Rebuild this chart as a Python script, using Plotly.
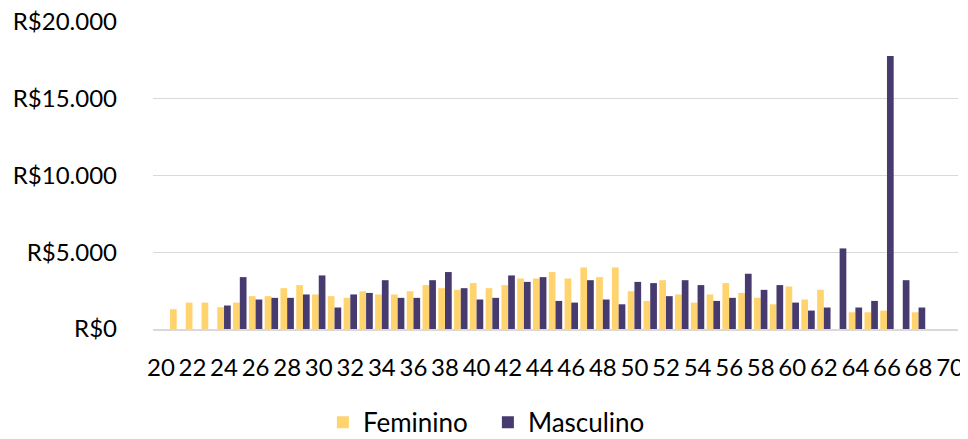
import plotly.graph_objects as go

ages = list(range(20, 71))
feminino = [None, 1290, 1720, 1720, 1420, 1720, 2140, 2140, 2660, 2860,
            2250, 2140, 2030, 2460, 2250, 2250, 2460, 2860, 2660, 2550,
            2990, 2660, 2860, 3290, 3290, 3710, 3290, 4010, 3380, 4010,
            2460, 1830, 3180, 2250, 1720, 2250, 2990, 2350, 2030, 1610,
            2770, 1920, 2550, None, 1090, 1090, 1200, None, 1090, None, None]
masculino = [None, None, None, None, 1530, 3380, 1920, 2030, 2030, 2250,
             3490, 1400, 2250, 2350, 3180, 2030, 2030, 3180, 3710, 2660,
             1920, 2030, 3490, 3070, 3380, 1830, 1720, 3180, 1920, 1610,
             3070, 2990, 2140, 3180, 2860, 1830, 2030, 3600, 2550, 2860,
             1720, 1200, 1400, 5250, 1400, 1830, 17780, 3180, 1400, None, None]

x_ticks = list(range(20, 71, 2))
y_ticks = [0, 5000, 10000, 15000, 20000]
y_tick_labels = ["R$0", "R$5.000", "R$10.000", "R$15.000", "R$20.000"]

FONT = "Lato, 'Open Sans', sans-serif"

fig = go.Figure()
fig.add_trace(go.Bar(x=ages, y=feminino, name="Feminino",
                     marker=dict(color="#FFD36E", line=dict(width=0))))
fig.add_trace(go.Bar(x=ages, y=masculino, name="Masculino",
                     marker=dict(color="#463A6E", line=dict(width=0))))

# page body has an 8px default margin, so the figure is sized to the visible area
fig.update_layout(
    width=960, height=431,
    margin=dict(l=145, r=10, t=14, b=110, autoexpand=False),
    paper_bgcolor="white", plot_bgcolor="white",
    barmode="group", bargap=0.15, bargroupgap=0,
    font=dict(family=FONT, size=26, color="#000000"),
    legend=dict(orientation="h", x=0.416, xanchor="center", y=-0.304, yanchor="middle",
                font=dict(family=FONT, size=26, color="#000000"),
                itemwidth=30, tracegroupgap=0, entrywidth=120, entrywidthmode="pixels"),
    showlegend=True,
)
fig.update_xaxes(
    range=[19.5, 70.5], tickmode="array", tickvals=x_ticks,
    ticktext=[str(v) for v in x_ticks], tickangle=0, automargin=False,
    showgrid=False, showline=True, linecolor="#D9D9D9", linewidth=2,
    ticks="", ticklabelstandoff=16, zeroline=False, ticklabeloverflow="allow",
    tickfont=dict(family=FONT, size=24, color="#000000"),
)
fig.update_yaxes(
    range=[0, 20000], tickmode="array", tickvals=y_ticks, ticktext=y_tick_labels,
    showgrid=True, gridcolor="#D9D9D9", gridwidth=1, automargin=False,
    zeroline=False, showline=False, ticks="", ticklabelstandoff=35,
    ticklabeloverflow="allow",
    tickfont=dict(family=FONT, size=24, color="#000000"),
)

fig.write_html("out.html")
